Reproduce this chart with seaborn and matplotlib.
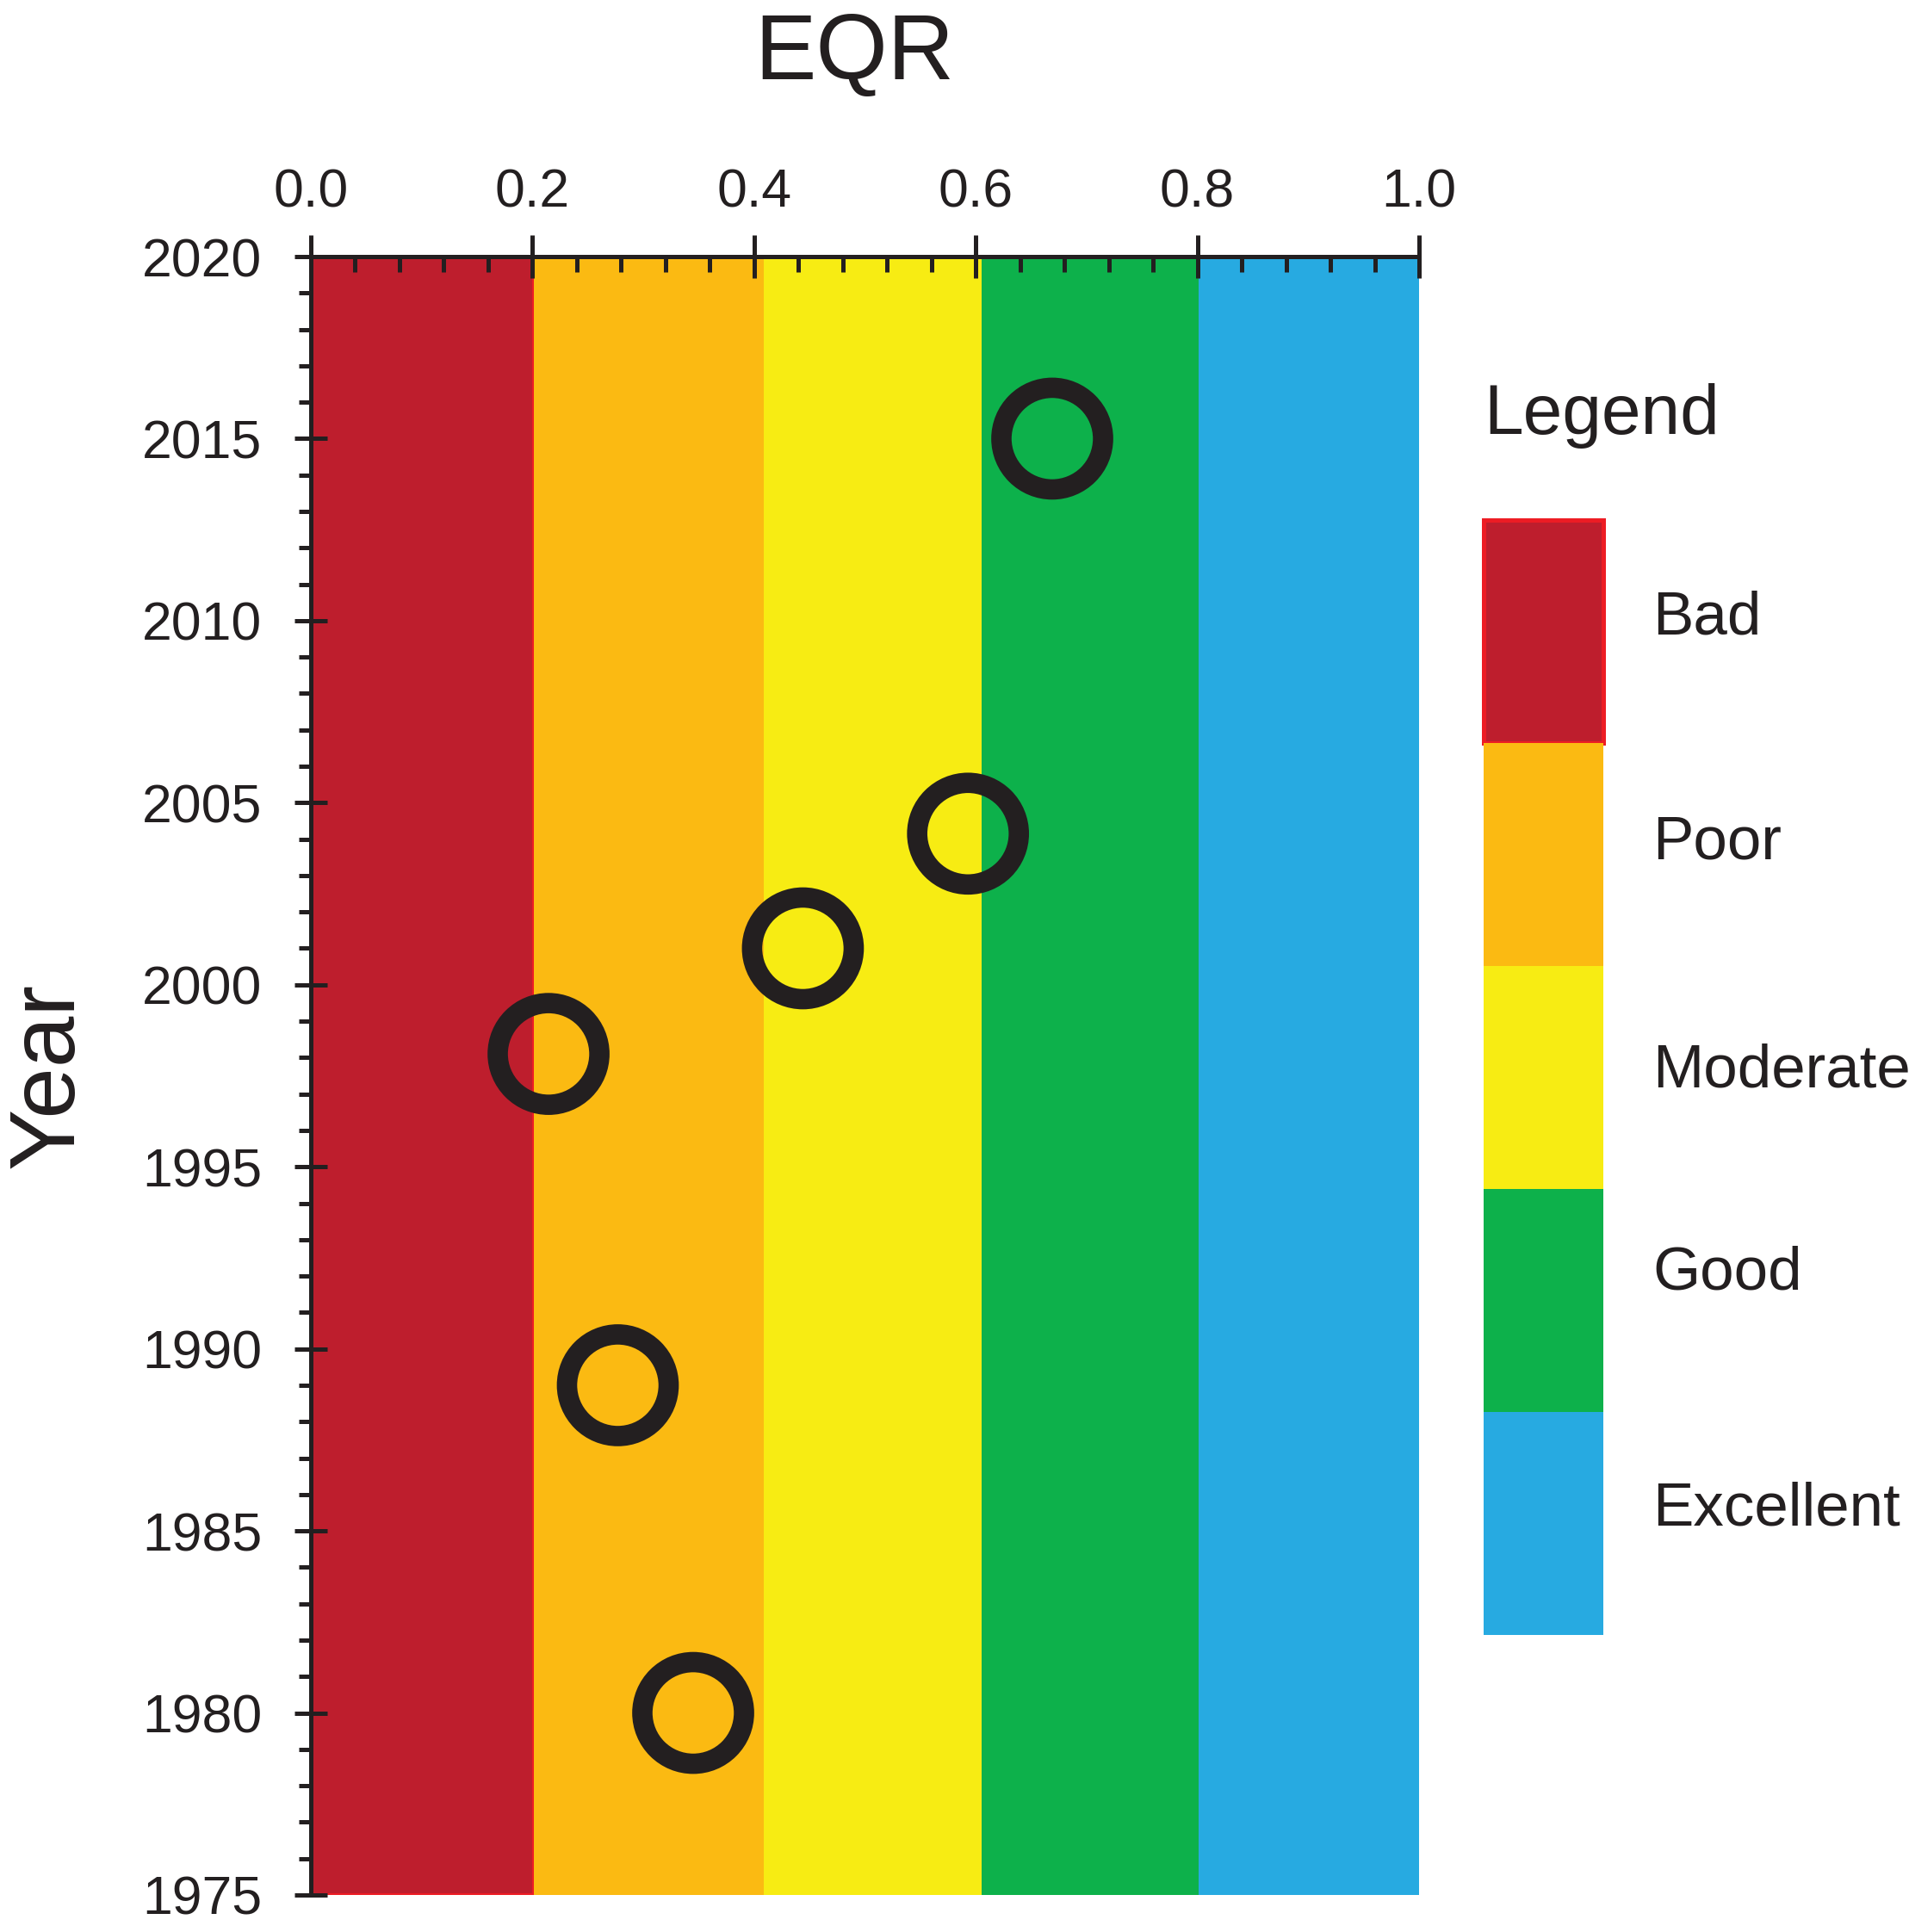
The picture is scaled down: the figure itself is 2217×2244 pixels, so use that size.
import matplotlib
matplotlib.use("Agg")
import matplotlib.pyplot as plt
import seaborn as sns
import pandas as pd
from matplotlib.patches import Patch
from matplotlib.ticker import MultipleLocator

# ---- data ----
years = [2015, 2004.15, 2001, 1998.1, 1989, 1980]
eqr = [0.669, 0.593, 0.444, 0.2145, 0.277, 0.345]
class_names = ["Bad", "Poor", "Moderate", "Good", "Excellent"]
class_bounds = [0.0, 0.201, 0.409, 0.605, 0.801, 1.0]
class_colors = ["#BE1E2D", "#FBBA12", "#F7EC13", "#0DB14B", "#27AAE1"]
x_ticks = [0.0, 0.2, 0.4, 0.6, 0.8, 1.0]
y_ticks = [1975, 1980, 1985, 1990, 1995, 2000, 2005, 2010, 2015, 2020]

INK = "#231F20"
EDGE_RED = "#ED1C24"

sns.set_theme(style="ticks")
plt.rcParams["font.family"] = ["Liberation Sans", "DejaVu Sans"]
plt.rcParams["text.color"] = INK
plt.rcParams["axes.labelcolor"] = INK
plt.rcParams["xtick.color"] = INK
plt.rcParams["ytick.color"] = INK

W, H = 2217, 2244
fig = plt.figure(figsize=(W / 100, H / 100), dpi=100)
ax = fig.add_axes([361 / W, 1 - 2201 / H, 1287 / W, 1903 / H])

# class bands
for lo, hi, c, name in zip(class_bounds[:-1], class_bounds[1:], class_colors, class_names):
    if name == "Bad":
        ax.axvspan(lo, hi, facecolor=c, edgecolor=EDGE_RED, linewidth=3, zorder=0)
    else:
        ax.axvspan(lo, hi, facecolor=c, edgecolor="none", linewidth=0, zorder=0)

df = pd.DataFrame({"EQR": eqr, "Year": years})
sns.scatterplot(data=df, x="EQR", y="Year", ax=ax, s=85 ** 2, marker="o",
                facecolor="none", edgecolor=INK, linewidth=17, zorder=5,
                legend=False)

ax.set_xlim(0, 1)
ax.set_ylim(1975, 2020)
ax.set_axisbelow(False)

# spines
for side in ["right", "bottom"]:
    ax.spines[side].set_visible(False)
for side in ["top", "left"]:
    ax.spines[side].set_linewidth(3.6)
    ax.spines[side].set_color(INK)

# x axis on top
ax.xaxis.tick_top()
ax.xaxis.set_label_position("top")
ax.set_xticks(x_ticks)
ax.set_xticklabels([f"{t:.1f}" for t in x_ticks])
ax.xaxis.set_minor_locator(MultipleLocator(0.04))
ax.tick_params(axis="x", which="major", direction="inout", length=36, width=3.6,
               top=True, bottom=False, labeltop=True, labelbottom=False,
               labelsize=45, pad=14, color=INK)
ax.tick_params(axis="x", which="minor", direction="in", length=13, width=3.6,
               top=True, bottom=False, color=INK)

ax.set_yticks(y_ticks)
ax.set_yticklabels([str(t) for t in y_ticks])
ax.yaxis.set_minor_locator(MultipleLocator(1))
ax.tick_params(axis="y", which="major", direction="inout", length=28, width=3.6,
               left=True, right=False, labelsize=45, pad=27, color=INK)
ax.tick_params(axis="y", which="minor", direction="out", length=10, width=3.6,
               left=True, right=False, color=INK)

# axis labels
ax.set_xlabel("EQR", fontsize=77)
ax.xaxis.set_label_coords((992 - 361) / 1287, (2201 - 64) / 1903)
ax.xaxis.label.set_va("center")
ax.set_ylabel("Year", fontsize=77)
ax.yaxis.set_label_coords((57 - 361) / 1287, (2201 - 1249) / 1903)
ax.yaxis.label.set_va("center")
ax.yaxis.label.set_ha("center")

# legend
handles = []
for c, name in zip(class_colors, class_names):
    if name == "Bad":
        handles.append(Patch(facecolor=c, edgecolor=EDGE_RED, linewidth=3.6, label=name))
    else:
        handles.append(Patch(facecolor=c, edgecolor="none", linewidth=0, label=name))

fs = 51
leg = fig.legend(handles=handles, labels=class_names, loc="upper left",
                 bbox_to_anchor=(1723 / W, 1 - 604 / H), bbox_transform=fig.transFigure,
                 frameon=False, fontsize=fs, handlelength=1.963, handleheight=5.249,
                 handletextpad=0.805, labelspacing=0, borderpad=0, borderaxespad=0)
label_lift = {"Bad": 14, "Poor": 12, "Moderate": 6, "Good": 30, "Excellent": 15}
for t in leg.get_texts():
    t.set_y(label_lift.get(t.get_text(), 7))
fig.text(1723 / W, 1 - 504 / H, "Legend", fontsize=59, ha="left", va="baseline")

fig.savefig("out.png", dpi=100, facecolor="white")
